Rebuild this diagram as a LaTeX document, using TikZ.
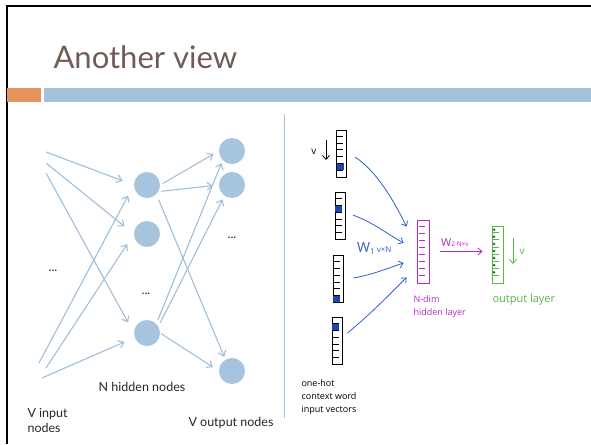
\documentclass[tikz,border=0pt]{standalone}
\usepackage{fontspec}
\setmainfont{Lato}
\newfontfamily\handfont{Open Sans}
\usetikzlibrary{arrows.meta, calc}
\definecolor{titlebrown}{RGB}{112, 92, 82}
\definecolor{barorange}{RGB}{229, 149, 92}
\definecolor{barblue}{RGB}{163, 193, 217}
\definecolor{nodeblue}{RGB}{166, 196, 221}
\definecolor{linkblue}{RGB}{160, 190, 215}
\definecolor{inkblue}{RGB}{45, 95, 205}
\definecolor{cellblue}{RGB}{25, 70, 175}
\definecolor{inkpurple}{RGB}{180, 40, 200}
\definecolor{inkgreen}{RGB}{90, 180, 70}
\definecolor{darkgreen}{RGB}{20, 110, 50}

\begin{document}
\begin{tikzpicture}[x=1pt, y=-1pt,
  neuron/.style={circle, fill=nodeblue, minimum size=26pt, inner sep=0pt},
  link/.style={-{Straight Barb[length=5pt, width=8pt]}, linkblue, line width=1.1pt},
  lbl/.style={font=\fontsize{12.5}{15}\selectfont, text=black!85},
  onehot/.style={draw=black, line width=0.8pt, minimum width=10pt, minimum height=47pt, inner sep=0pt},
  ink/.style={-{Straight Barb[length=4pt, width=7pt]}, line width=0.8pt},
  hand/.style={font=\handfont\fontsize{9}{13}\selectfont, align=left, anchor=west}]
  \useasboundingbox (0,0) rectangle (591,444);

  % Slide frame, title and bars
  \draw[line width=2pt] (7,444) -- (7,6) -- (591,6);
  \node[anchor=base west, text=titlebrown, font=\fontsize{31}{34}\selectfont] (title) at (50,68) {Another view};
  \fill[barorange] (7,88) rectangle (41,102);
  \fill[barblue] (44,88) rectangle (591,102);
  \draw[barblue, line width=0.8pt] (284,114) -- (284,418);

  % Network: hidden and output nodes
  \node[neuron] (h1) at (147,185) {};
  \node[neuron] (h2) at (147,234) {};
  \node[neuron] (h3) at (147,333) {};
  \node[neuron] (o1) at (232,151) {};
  \node[neuron] (o2) at (232,185) {};
  \node[neuron] (o3) at (232,371) {};
  \coordinate (i1) at (46,152);
  \coordinate (i2) at (46,163);
  \coordinate (i3) at (46,173);
  \coordinate (i4) at (39,363);
  \coordinate (i5) at (46,368);
  \coordinate (i6) at (42,378);

  \draw[link, shorten >=12pt] (i1) -- (h1.west);
  \draw[link, shorten >=12pt] (i2) -- (h2.west);
  \draw[link, shorten >=12pt] (i3) -- (h3.west);
  \draw[link, shorten >=12pt] (i4) -- (h1.west);
  \draw[link, shorten >=12pt] (i5) -- (h2.west);
  \draw[link, shorten >=11pt] (i6) -- (h3.200);

  \draw[link, shorten <=3pt, shorten >=6pt] (h1.east) -- (o1.west);
  \draw[link, shorten <=3pt, shorten >=6pt] (h1.-30) -- (o2.west);
  \draw[link, shorten <=6pt, shorten >=3pt] (h1.-45) -- (o3.120);
  \draw[link, shorten <=4pt, shorten >=3pt] (h3.45) -- (o1.225);
  \draw[link, shorten <=4pt, shorten >=4pt] (h3.30) -- (o2.235);
  \draw[link, shorten <=1pt, shorten >=7pt] (h3.east) -- (o3.west);

  \node[lbl] (dotsin) at (53,271) {...};
  \node[lbl] (dotshid) at (146,294) {...};
  \node[lbl] (dotsout) at (232,238) {...};
  \node[lbl] (nhid) at (142,387) {N hidden nodes};
  \node[lbl, align=left, anchor=west] (vin) at (24,420) {V input\\nodes};
  \node[lbl] (vout) at (231,423) {V output nodes};

  % One-hot input vectors
  \foreach \i/\x/\y/\c in {1/341.7/153.5/5, 2/340.3/216/2, 3/338/279/6, 4/337/341/1} {
    \node[onehot] (v\i) at (\x,\y) {};
    \fill[cellblue] ($(v\i.north west)+(0.5,\c*6.71)$) rectangle ++(7,6.71);
    \foreach \k in {1,...,6}
      \draw[line width=0.7pt] ($(v\i.north west)+(0,\k*6.71)$) -- ++(7,0);
  }
  \coordinate (vtop) at (326,140);
  \coordinate (vbot) at (326,160);
  \draw[ink] (vtop) -- (vbot);
  \node[font=\handfont\fontsize{10}{10}\selectfont] (vlen) at (314,152) {v};

  % Hidden layer
  \node[draw=inkpurple, line width=0.9pt, minimum width=12pt, minimum height=63pt, inner sep=0pt] (hid) at (423,251.5) {};
  \foreach \k in {1,...,8}
    \draw[inkpurple, line width=0.7pt] ($(hid.north west)+(2,\k*7)$) -- ++(6,0);

  % Output layer
  \node[draw=inkgreen, line width=0.9pt, minimum width=11pt, minimum height=57pt, inner sep=0pt] (out) at (497.5,254.5) {};
  \foreach \k in {1,...,7} {
    \draw[inkgreen, line width=0.7pt] ($(out.north west)+(0,\k*7.1)$) -- ++(7,0);
    \fill[darkgreen] ($(out.north west)+(2.5,\k*7.1-3)$) circle (1.4);
  }

  % Weights
  \draw[ink, inkblue] ([xshift=8pt, yshift=-3.5pt]v1.east) .. controls +(22,15) and +(-14,-28) .. ([xshift=-10pt, yshift=-7pt]hid.north west);
  \draw[ink, inkblue] ([xshift=7pt, yshift=1pt]v2.east) .. controls +(20,7) and +(-18,-10) .. ([xshift=-13pt, yshift=8.5pt]hid.west);
  \draw[ink, inkblue] ([xshift=10pt, yshift=1pt]v3.east) .. controls +(18,-3) and +(-18,6) .. ([xshift=-13pt, yshift=-11.5pt]hid.west);
  \draw[ink, inkblue] ([xshift=5pt, yshift=8pt]v4.east) .. controls +(20,-16) and +(-18,18) .. ([xshift=-10pt, yshift=6pt]hid.south west);
  \draw[ink, inkpurple, shorten <=11pt, shorten >=9pt] (hid.east) -- (hid.east -| out.west);

  \node[text=inkblue, font=\handfont, anchor=west, inner sep=0pt] (w1) at (357,248)
    {{\fontsize{14}{14}\selectfont W}{\fontsize{8}{8}\selectfont\raisebox{-2pt}{1} v×N}};
  \node[text=inkpurple, font=\handfont, anchor=west, inner sep=0pt] (w2) at (441,243)
    {{\fontsize{11}{11}\selectfont W}{\fontsize{6.5}{7}\selectfont 2 N×v}};

  \coordinate (gtop) at (513,238);
  \coordinate (gbot) at (513,264);
  \draw[ink, inkgreen] (gtop) -- (gbot);
  \node[text=inkgreen, font=\handfont\fontsize{10}{10}\selectfont] (glen) at (522,252) {v};

  \node[hand, text=inkpurple] (hidlab) at (410,307) {N-dim\\hidden layer};
  \node[hand, text=inkgreen, font=\handfont\fontsize{11}{13}\selectfont] (outlab) at (489,300) {output layer};
  \node[hand, text=black, font=\handfont\fontsize{9}{13}\selectfont] (inlab) at (298,397) {one-hot\\context word\\input vectors};
\end{tikzpicture}
\end{document}
